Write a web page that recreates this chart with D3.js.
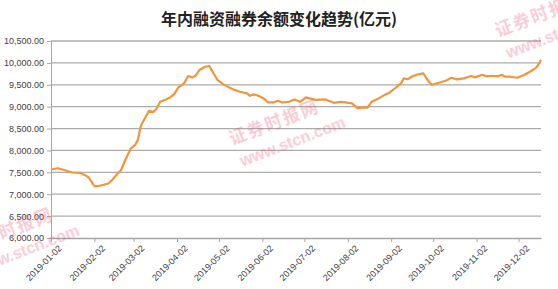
<!DOCTYPE html>
<html>
<head>
<meta charset="utf-8">
<script src="https://cdn.jsdelivr.net/npm/d3@7"></script>
<style>
  body { margin: 0; background: #fff; }
  svg { display: block; }
</style>
</head>
<body>
<svg id="chart" width="558" height="289"></svg>
<script>
// 融资融券余额 (亿元)
const dates = [
  "2019-01-02","2019-01-07","2019-01-12","2019-01-17","2019-01-23","2019-01-26","2019-01-29","2019-01-31",
  "2019-02-02","2019-02-05","2019-02-12","2019-02-15","2019-02-18","2019-02-21","2019-02-24","2019-02-28",
  "2019-03-03","2019-03-05","2019-03-07","2019-03-08","2019-03-10","2019-03-13","2019-03-16","2019-03-18",
  "2019-03-21","2019-03-25","2019-03-28","2019-03-31","2019-04-03","2019-04-07","2019-04-10","2019-04-13",
  "2019-04-15","2019-04-18","2019-04-22","2019-04-25","2019-04-27","2019-05-01","2019-05-05","2019-05-09",
  "2019-05-12","2019-05-17","2019-05-22","2019-05-24","2019-05-27","2019-05-30","2019-06-03","2019-06-06",
  "2019-06-10","2019-06-13","2019-06-16","2019-06-21","2019-06-25","2019-06-29","2019-07-03","2019-07-10",
  "2019-07-17","2019-07-23","2019-07-28","2019-07-31","2019-08-05","2019-08-09","2019-08-12","2019-08-16",
  "2019-08-19","2019-08-24","2019-08-29","2019-09-01","2019-09-06","2019-09-09","2019-09-11","2019-09-14",
  "2019-09-18","2019-09-22","2019-09-25","2019-09-27","2019-09-29","2019-10-01","2019-10-06","2019-10-11",
  "2019-10-15","2019-10-19","2019-10-24","2019-10-29","2019-11-01","2019-11-06","2019-11-09","2019-11-13",
  "2019-11-17","2019-11-20","2019-11-22","2019-11-26","2019-12-01","2019-12-06","2019-12-10","2019-12-14",
  "2019-12-16","2019-12-18"
];
const balance = [
  7565, 7594, 7548, 7496, 7487, 7441, 7381, 7281,
  7182, 7189, 7244, 7335, 7450, 7548, 7777, 8045,
  8120, 8235, 8539, 8617, 8731, 8906, 8876, 8937,
  9111, 9166, 9212, 9287, 9441, 9532, 9699, 9669,
  9699, 9836, 9912, 9928, 9820, 9608, 9516, 9441,
  9395, 9340, 9303, 9248, 9280, 9248, 9189, 9097,
  9097, 9134, 9097, 9111, 9166, 9111, 9212, 9155,
  9166, 9088, 9111, 9097, 9074, 8960, 8983, 8975,
  9111, 9189, 9280, 9326, 9455, 9532, 9647, 9631,
  9706, 9745, 9761, 9660, 9569, 9500, 9546, 9592,
  9660, 9624, 9647, 9699, 9669, 9729, 9692, 9706,
  9692, 9729, 9684, 9684, 9660, 9722, 9798, 9875,
  9951, 10070
];
const monthTicks = ["2019-01-02","2019-02-02","2019-03-02","2019-04-02","2019-05-02","2019-06-02",
  "2019-07-02","2019-08-02","2019-09-02","2019-10-02","2019-11-02","2019-12-02"];
const yTicks = [6000, 6500, 7000, 7500, 8000, 8500, 9000, 9500, 10000, 10500];
const title = "年内融资融券余额变化趋势(亿元)";

const parse = d3.timeParse("%Y-%m-%d");
const data = dates.map((d, i) => ({ date: parse(d), value: balance[i] }));

const svg = d3.select("#chart");
const margin = { top: 41, right: 17, bottom: 51, left: 51 };
const W = 558, H = 289;

const x = d3.scaleTime()
  .domain([parse("2019-01-02"), parse("2019-12-18")])
  .range([margin.left, W - margin.right]);
const y = d3.scaleLinear()
  .domain([6000, 10500])
  .range([H - margin.bottom, margin.top]);

// title
svg.append("text")
  .attr("x", W / 2)
  .attr("y", 25)
  .attr("text-anchor", "middle")
  .attr("font-family", "Noto Sans CJK SC")
  .attr("font-weight", "bold")
  .attr("font-size", "16px")
  .attr("fill", "#222")
  .text(title);

// gridlines
svg.append("g")
  .selectAll("line")
  .data(yTicks.slice(1))
  .join("line")
  .attr("x1", margin.left)
  .attr("x2", W - margin.right)
  .attr("y1", d => y(d))
  .attr("y2", d => y(d))
  .attr("stroke", "#ababab")
  .attr("stroke-width", 1.3);

// y axis
const yAxis = svg.append("g")
  .attr("transform", `translate(${margin.left},0)`)
  .call(d3.axisLeft(y).tickValues(yTicks).tickFormat(d3.format(",.2f")).tickSize(4).tickPadding(3));
yAxis.select(".domain").attr("stroke", "#a6a6a6");
yAxis.selectAll(".tick line").attr("stroke", "#a6a6a6");
yAxis.selectAll("text")
  .attr("font-family", "Liberation Sans, Arial")
  .attr("font-size", "9px")
  .attr("fill", "#404040");

// x axis
const xAxis = svg.append("g")
  .attr("transform", `translate(0,${H - margin.bottom})`)
  .call(d3.axisBottom(x).tickValues(monthTicks.map(parse))
    .tickFormat(d3.timeFormat("%Y-%m-%d")).tickSize(4).tickSizeOuter(0));
xAxis.select(".domain").attr("stroke", "#a6a6a6").attr("stroke-width", 1.3);
xAxis.selectAll(".tick line").attr("stroke", "#a6a6a6");
xAxis.selectAll("text")
  .attr("font-family", "Liberation Sans, Arial")
  .attr("font-size", "9px")
  .attr("fill", "#404040")
  .attr("text-anchor", "end")
  .attr("dy", "0.3em")
  .attr("transform", "translate(4,4) rotate(-45)");

// line
const line = d3.line()
  .x(d => x(d.date))
  .y(d => y(d.value))
  .curve(d3.curveLinear);

svg.append("path")
  .datum(data)
  .attr("fill", "none")
  .attr("stroke", "#f3953a")
  .attr("stroke-width", 2.2)
  .attr("stroke-linejoin", "round")
  .attr("d", line);

// watermark 证券时报网, repeated like the source image
const marks = [[232, 145], [498, 37], [-34, 253]];
const wm = svg.append("g").attr("opacity", 0.3);
marks.forEach(([mx, my]) => {
  const g = wm.append("g").attr("transform", `translate(${mx},${my}) rotate(-21)`);
  g.append("text")
    .attr("font-family", "Noto Sans CJK SC")
    .attr("font-weight", "bold")
    .attr("font-size", "17px")
    .attr("fill", "#e8506a")
    .attr("letter-spacing", "2px")
    .text("证券时报网");
  g.append("text")
    .attr("x", 2)
    .attr("y", 24)
    .attr("font-family", "Liberation Sans, Arial")
    .attr("font-weight", "bold")
    .attr("font-size", "16px")
    .attr("fill", "#e8506a")
    .text("www.stcn.com");
});
</script>
</body>
</html>
